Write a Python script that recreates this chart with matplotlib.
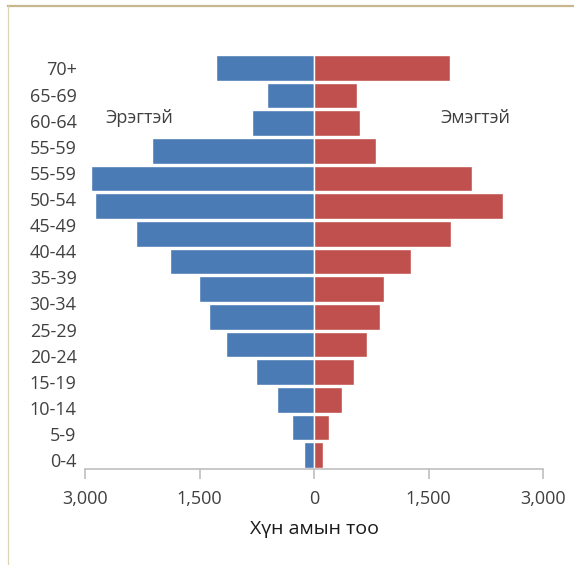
import matplotlib
matplotlib.use("Agg")
import matplotlib.pyplot as plt
from matplotlib.lines import Line2D
import numpy as np

plt.rcParams['font.family'] = ['Open Sans', 'DejaVu Sans']

# 15 bars, top to bottom
age_groups = ["70+", "65-69", "60-64", "55-59", "50-54", "45-49", "40-44", "35-39",
              "30-34", "25-29", "20-24", "15-19", "10-14", "5-9", "0-4"]
men = [1290, 617, 810, 2122, 2925, 2875, 2335, 1890, 1505, 1380, 1151, 757, 490, 285, 127]
women = [1776, 568, 604, 809, 2069, 2476, 1794, 1277, 923, 870, 691, 521, 372, 197, 118]

# the printed axis labels (16 of them, as in the source)
tick_labels = ["70+", "65-69", "60-64", "55-59", "55-59", "50-54", "45-49", "40-44",
               "35-39", "30-34", "25-29", "20-24", "15-19", "10-14", "5-9", "0-4"]
x_ticks = [-3000, -1500, 0, 1500, 3000]
x_tick_labels = ["3,000", "1,500", "0", "1,500", "3,000"]

BLUE = "#4a7bb5"
RED = "#c0504d"
TEXT = "#404040"

fig = plt.figure(figsize=(5.74, 5.65), dpi=100)
ax = fig.add_axes([85 / 574, 1 - 469 / 565, (543 - 85) / 574, (469 - 54) / 565])

y = np.arange(len(age_groups))
ax.barh(y, [-v for v in men], height=0.92, color=BLUE, edgecolor="white", linewidth=1.0)
ax.barh(y, women, height=0.92, color=RED, edgecolor="white", linewidth=1.0)

ax.set_xlim(-3000, 3000)
ax.set_ylim(len(age_groups) - 0.5, -0.5)

ax.set_xticks(x_ticks)
ax.set_xticklabels(x_tick_labels, fontsize=13, color=TEXT)
ax.set_yticks(np.linspace(0.02, 14.18, len(tick_labels)))
ax.set_yticklabels(tick_labels, fontsize=13, color=TEXT)
ax.tick_params(axis="y", length=0, pad=6)
ax.tick_params(axis="x", direction="out", length=7, width=1.2, color="#bfbfbf", pad=8)

for s in ["top", "right", "left"]:
    ax.spines[s].set_visible(False)
ax.spines["bottom"].set_color("#bfbfbf")
ax.spines["bottom"].set_linewidth(1.2)

ax.set_xlabel("Хүн амын тоо", fontsize=14, color="#1a1a1a", labelpad=9)

ax.text(-2290, 1.8, "Эрэгтэй", fontsize=13, color=TEXT, ha="center", va="center")
ax.text(2110, 1.8, "Эмэгтэй", fontsize=13, color=TEXT, ha="center", va="center")

# page frame
fig.add_artist(Line2D([8 / 574, 1], [1 - 6 / 565, 1 - 6 / 565], color="#c8b68c", linewidth=1.6,
                      transform=fig.transFigure))
fig.add_artist(Line2D([8 / 574, 8 / 574], [0, 1 - 6 / 565], color="#ddd3b5", linewidth=0.9,
                      transform=fig.transFigure))

fig.savefig("out.png", dpi=100)
